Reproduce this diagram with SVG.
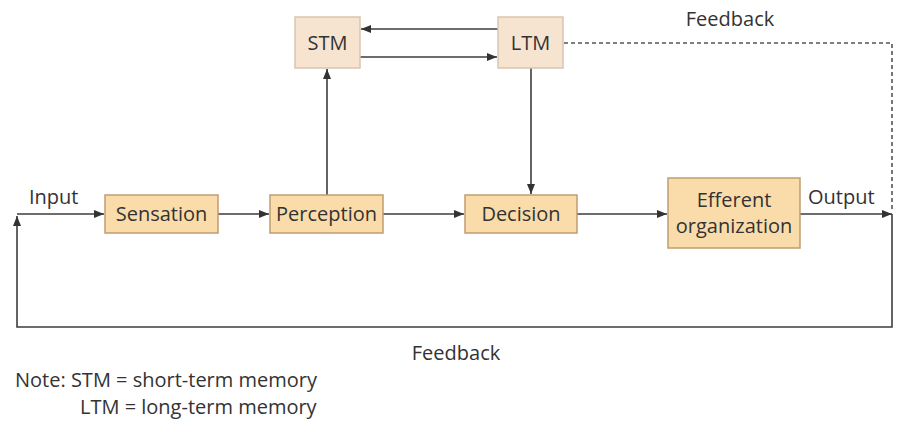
<svg xmlns="http://www.w3.org/2000/svg" width="898" height="428" viewBox="0 0 898 428">
  <defs>
    <style>
      .lbl { font-family: "Open Sans", "Noto Sans", sans-serif; font-size: 20px; fill: #333333; }
      .mid { text-anchor: middle; }
      .stage { fill: #fadcaa; stroke: #c09d70; stroke-width: 1.5; }
      .mem { fill: #f6e4d0; stroke: #d9c5b0; stroke-width: 1.5; }
      .wire { fill: none; stroke: #3d3d3d; stroke-width: 1.6; }
      .dash { fill: none; stroke: #555; stroke-width: 1.6; stroke-dasharray: 4 3; }
    </style>
    <marker id="arrow" viewBox="0 0 10 8" refX="10" refY="4" markerWidth="10" markerHeight="8" markerUnits="userSpaceOnUse" orient="auto">
      <path d="M0,0 L10,4 L0,8 Z" fill="#333"/>
    </marker>
  </defs>
  <rect width="898" height="428" fill="#ffffff"/>

  <!-- connectors -->
  <g id="connectors">
    <!-- memory exchange -->
    <line class="wire" x1="498" y1="29" x2="361" y2="29" marker-end="url(#arrow)"/>
    <line class="wire" x1="360" y1="57" x2="497" y2="57" marker-end="url(#arrow)"/>
    <!-- perception to STM -->
    <line class="wire" x1="327" y1="195" x2="327" y2="69" marker-end="url(#arrow)"/>
    <!-- LTM to decision -->
    <line class="wire" x1="531" y1="68" x2="531" y2="194" marker-end="url(#arrow)"/>
    <!-- main flow -->
    <line class="wire" x1="17" y1="214" x2="104" y2="214" marker-end="url(#arrow)"/>
    <line class="wire" x1="218" y1="214" x2="269" y2="214" marker-end="url(#arrow)"/>
    <line class="wire" x1="383" y1="214" x2="464" y2="214" marker-end="url(#arrow)"/>
    <line class="wire" x1="577" y1="214" x2="667" y2="214" marker-end="url(#arrow)"/>
    <line class="wire" x1="800" y1="214" x2="892" y2="214" marker-end="url(#arrow)"/>
    <!-- outer feedback loop -->
    <polyline class="wire" points="892,214 892,327 17,327 17,216" marker-end="url(#arrow)"/>
    <!-- LTM feedback (dashed) -->
    <polyline class="dash" points="564,43 892,43 892,212"/>
  </g>

  <g id="stm">
    <rect class="mem" x="295" y="17" width="65" height="51"/>
    <text class="lbl mid" x="327.5" y="50">STM</text>
  </g>
  <g id="ltm">
    <rect class="mem" x="498" y="17" width="65" height="51"/>
    <text class="lbl mid" x="530.5" y="50">LTM</text>
  </g>
  <g id="sensation">
    <rect class="stage" x="105" y="195" width="113" height="38"/>
    <text class="lbl mid" x="161.5" y="221">Sensation</text>
  </g>
  <g id="perception">
    <rect class="stage" x="270" y="195" width="113" height="38"/>
    <text class="lbl mid" x="326.5" y="221">Perception</text>
  </g>
  <g id="decision">
    <rect class="stage" x="465" y="195" width="112" height="38"/>
    <text class="lbl mid" x="521" y="221">Decision</text>
  </g>
  <g id="efferent">
    <rect class="stage" x="668" y="178" width="132" height="70"/>
    <text class="lbl mid" x="734" y="207">Efferent</text>
    <text class="lbl mid" x="734" y="233">organization</text>
  </g>

  <g id="labels">
    <text class="lbl" x="29" y="204">Input</text>
    <text class="lbl" x="808" y="204">Output</text>
    <text class="lbl mid" x="730" y="26">Feedback</text>
    <text class="lbl mid" x="456" y="360">Feedback</text>
    <text class="lbl" x="15" y="387">Note: STM = short-term memory</text>
    <text class="lbl" x="80" y="414">LTM = long-term memory</text>
  </g>
</svg>
